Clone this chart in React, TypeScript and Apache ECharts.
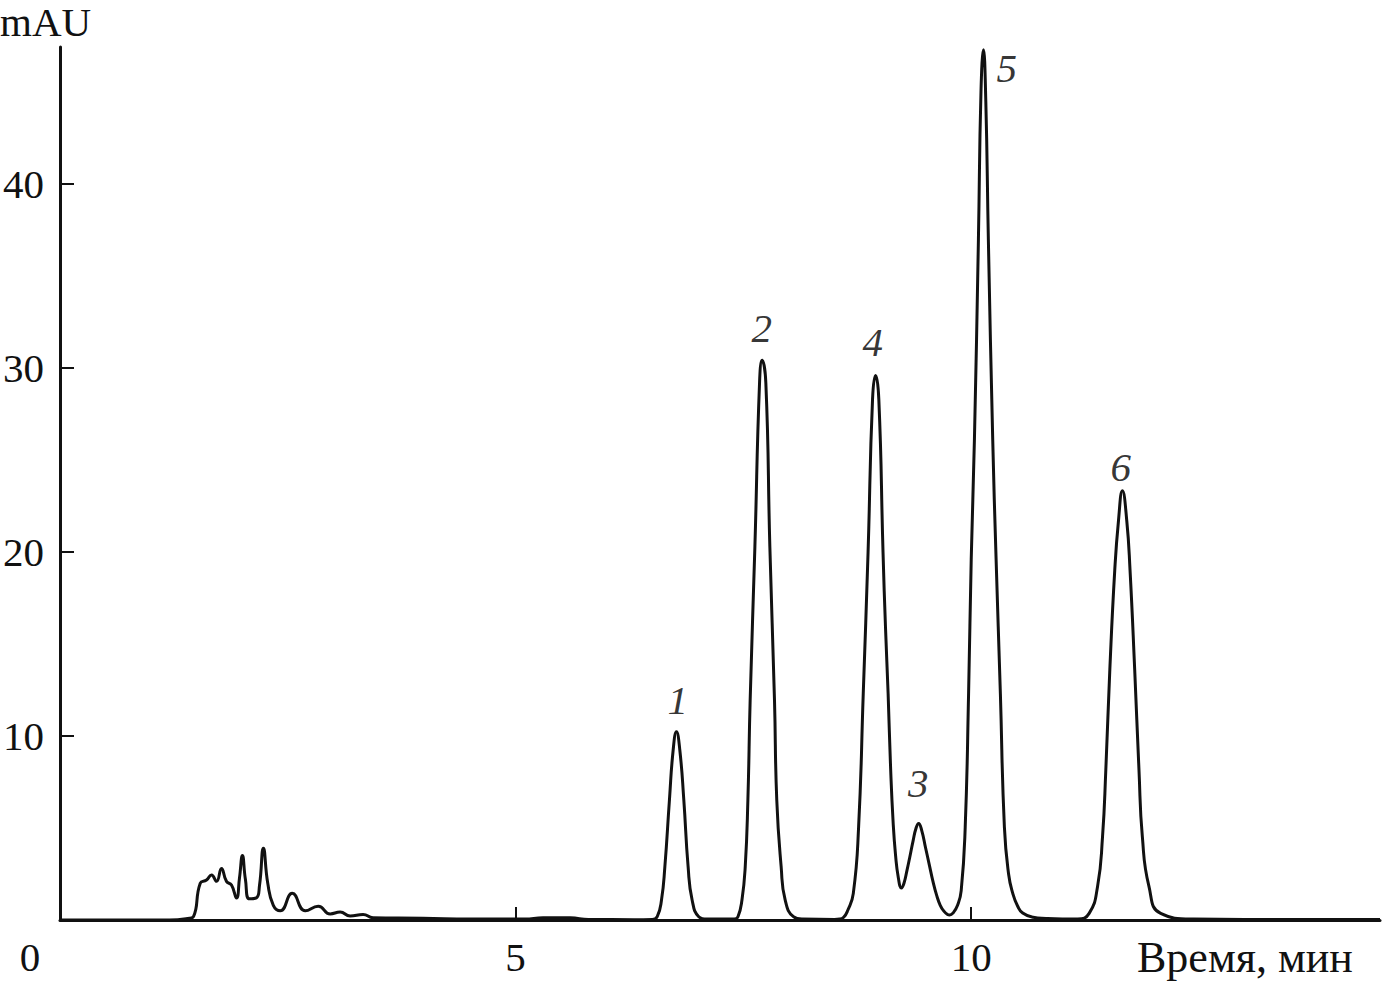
import React, { useEffect, useRef } from "react";
import * as echarts from "echarts";

// Chromatogram trace: [time (min), absorbance (mAU)]
const noise: [number, number][] = [
  [0, 0], [1.2, 0], [1.4, 0.08], [1.466, 0.2], [1.539, 2.0], [1.608, 2.17], [1.663, 2.45],
  [1.718, 2.1], [1.772, 2.8], [1.827, 2.1], [1.882, 1.9], [1.937, 1.2], [1.97, 2.3],
  [2.002, 3.5], [2.035, 2.2], [2.079, 1.15], [2.155, 1.2], [2.19, 1.9], [2.232, 3.9],
  [2.28, 2.0], [2.341, 0.8], [2.418, 0.5], [2.549, 1.45], [2.692, 0.5], [2.834, 0.75],
  [2.965, 0.33], [3.074, 0.43], [3.184, 0.22], [3.326, 0.3], [3.435, 0.12], [3.982, 0.1],
  [4.5, 0.05], [5.1, 0.05], [5.3, 0.12], [5.6, 0.12], [5.8, 0.03], [6.3, 0.02], [6.5, 0.03],
];
const peak1: [number, number][] = [
  [6.554, 0.18], [6.601, 1.09], [6.638, 2.9], [6.688, 6.52], [6.729, 9.24], [6.765, 10.23],
  [6.802, 9.24], [6.846, 6.52], [6.893, 2.9], [6.937, 1.09], [7.01, 0.18], [7.1, 0.05], [7.3, 0.05],
];
const peak2: [number, number][] = [
  [7.4, 0.06], [7.44, 0.18], [7.484, 1.09], [7.52, 2.9], [7.549, 6.52], [7.574, 11.96],
  [7.626, 20.3], [7.677, 29.2], [7.705, 30.43], [7.746, 29.2], [7.79, 20.3], [7.841, 11.96],
  [7.866, 6.52], [7.914, 2.9], [7.958, 1.09], [8.049, 0.18], [8.15, 0.05], [8.5, 0.03],
];
const peaks43: [number, number][] = [
  [8.556, 0.05], [8.6, 0.15], [8.643, 0.5], [8.706, 1.45], [8.764, 5.05], [8.815, 12.3],
  [8.868, 20], [8.917, 28.3], [8.95, 29.6], [8.986, 28.3], [9.032, 20], [9.06, 15.8],
  [9.088, 12.3], [9.115, 8.3], [9.143, 5.3], [9.17, 3.5], [9.2, 2.3], [9.234, 1.74],
  [9.262, 2.0], [9.295, 2.7], [9.325, 3.4], [9.362, 4.3], [9.395, 5.0], [9.423, 5.25],
  [9.455, 4.9], [9.5, 3.9], [9.54, 3.0], [9.58, 2.1], [9.62, 1.35], [9.66, 0.8],
  [9.7, 0.48], [9.74, 0.3], [9.763, 0.27],
];
const peak5: [number, number][] = [
  [9.8, 0.38], [9.85, 0.8], [9.89, 1.6], [9.934, 5.05], [9.971, 12.3], [10.0, 19.6], [10.035, 26.1],
  [10.079, 37], [10.107, 45], [10.134, 47.3], [10.16, 44.5], [10.188, 37], [10.236, 26.1],
  [10.273, 19.6], [10.32, 12.3], [10.364, 5.05], [10.41, 2.5], [10.456, 1.45], [10.51, 0.75],
  [10.565, 0.38], [10.68, 0.15], [10.82, 0.08], [11.0, 0.05],
];
const peak6: [number, number][] = [
  [11.167, 0.05], [11.294, 0.36], [11.386, 1.81], [11.441, 4.53], [11.477, 8.15],
  [11.521, 13.6], [11.575, 19.0], [11.616, 21.7], [11.659, 23.33], [11.707, 21.7],
  [11.743, 19.0], [11.794, 13.6], [11.841, 8.15], [11.878, 4.53], [11.951, 1.81],
  [12.079, 0.36], [12.44, 0.05], [13.0, 0.03], [14.486, 0.03],
];

// Peak number labels: [time, mAU, label]
const peakLabels: [number, number, string][] = [
  [6.78, 11.96, "1"],
  [7.7, 32.2, "2"],
  [8.92, 31.4, "4"],
  [9.42, 7.45, "3"],
  [10.39, 46.3, "5"],
  [11.64, 24.6, "6"],
];

const xTicks = [5, 10];
const yTicks = [10, 20, 30, 40];
const xMax = 14.486;
const yMax = 47.45;

const FONT = "'Liberation Serif', 'Times New Roman', serif";
const INK = "#111111";

export default function App() {
  const ref = useRef<HTMLDivElement>(null);
  useEffect(() => {
    if (!ref.current) return;
    const chart = echarts.init(ref.current, null, { renderer: "svg" });
    const trace = [...noise, ...peak1, ...peak2, ...peaks43, ...peak5, ...peak6];
    chart.setOption({
      animation: false,
      backgroundColor: "#ffffff",
      grid: { left: 56, right: 4, top: 47, bottom: 62, containLabel: false },
      xAxis: {
        type: "value",
        min: 0,
        max: xMax,
        axisLine: { show: true, onZero: false, lineStyle: { color: INK, width: 3 } },
        axisTick: { show: true, inside: true, length: 13, lineStyle: { color: INK, width: 2 }, customValues: xTicks },
        axisLabel: {
          show: true,
          customValues: xTicks,
          margin: 16,
          color: INK,
          fontFamily: FONT,
          fontSize: 41,
          lineHeight: 41,
        },
        splitLine: { show: false },
      },
      yAxis: {
        type: "value",
        min: 0,
        max: yMax,
        axisLine: { show: true, onZero: false, lineStyle: { color: INK, width: 3 } },
        axisTick: { show: true, inside: true, length: 14, lineStyle: { color: INK, width: 2 }, customValues: yTicks },
        axisLabel: {
          show: true,
          customValues: yTicks,
          margin: 16,
          color: INK,
          fontFamily: FONT,
          fontSize: 41,
        },
        splitLine: { show: false },
      },
      graphic: [
        { type: "text", left: 0, top: 1, style: { text: "mAU", fill: INK, font: `41px ${FONT}` } },
        { type: "text", x: 30, y: 957, style: { text: "0", fill: INK, font: `41px ${FONT}`, textAlign: "center", textVerticalAlign: "middle" } },
        { type: "text", x: 1137, y: 957, style: { text: "Время, мин", fill: INK, font: `44px ${FONT}`, textAlign: "left", textVerticalAlign: "middle" } },
      ],
      series: [
        {
          type: "line",
          data: trace,
          showSymbol: false,
          symbol: "none",
          smooth: 0.5,
          lineStyle: { color: INK, width: 3 },
          z: 3,
        },
        {
          type: "scatter",
          data: peakLabels.map((p) => [p[0], p[1], p[2]]),
          symbolSize: 1,
          itemStyle: { color: "rgba(0,0,0,0)" },
          label: {
            show: true,
            position: "inside",
            formatter: (p: any) => p.data[2],
            color: "#000",
            fontFamily: FONT,
            fontStyle: "italic",
            fontSize: 41,
          },
          z: 4,
        },
      ],
    });
    return () => chart.dispose();
  }, []);
  return (
    <div
      ref={ref}
      style={{ position: "fixed", left: 0, top: 0, width: 1384, height: 982, background: "#fff" }}
    />
  );
}
